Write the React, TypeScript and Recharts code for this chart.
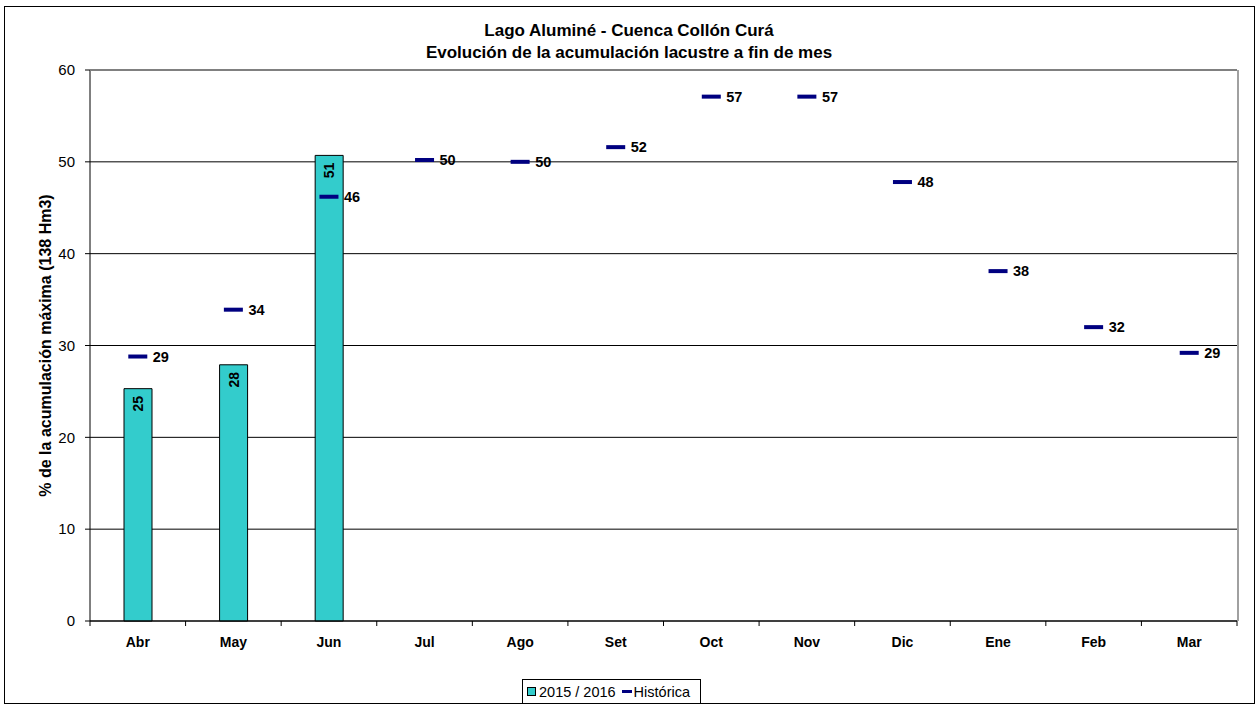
import { ComposedChart, Bar, Line, XAxis, YAxis, CartesianGrid, LabelList } from 'recharts';

const months = ['Abr', 'May', 'Jun', 'Jul', 'Ago', 'Set', 'Oct', 'Nov', 'Dic', 'Ene', 'Feb', 'Mar'];
const actual = [25.3, 27.9, 50.7, null, null, null, null, null, null, null, null, null];
const historica = [28.8, 33.9, 46.2, 50.2, 50.0, 51.6, 57.1, 57.1, 47.8, 38.1, 32.0, 29.2];
const yTicks = [0, 10, 20, 30, 40, 50, 60];

const data = months.map((m, i) => ({ month: m, actual: actual[i], hist: historica[i] }));

const W = 1258;
const H = 708;
const PLOT_LEFT = 90;
const PLOT_RIGHT = 1237;
const BAND = (PLOT_RIGHT - PLOT_LEFT) / months.length;
const FONT = '"Liberation Sans", Arial, sans-serif';

const MonthTick = (props: any) => {
  const { x, y, payload, index } = props;
  return (
    <g>
      <line x1={x - BAND / 2} x2={x - BAND / 2} y1={y - 8} y2={y - 3} stroke="#000" />
      {index === months.length - 1 && (
        <line x1={x + BAND / 2} x2={x + BAND / 2} y1={y - 8} y2={y - 3} stroke="#000" />
      )}
      <text x={x} y={y + 13} textAnchor="middle" dominantBaseline="central"
        fontSize={14} fontWeight="bold" fill="#000" fontFamily={FONT}>
        {payload.value}
      </text>
    </g>
  );
};

const HistDot = (props: any) => {
  const { cx, cy } = props;
  if (cx == null || cy == null) return null;
  return <rect x={cx - 9.5} y={cy - 2} width={19} height={4} fill="#000080" />;
};

const HistLabel = (props: any) => {
  const { x, y, value } = props;
  if (value == null) return null;
  return (
    <text x={x + 15} y={y} dominantBaseline="central" fontSize={14.5} fontWeight="bold"
      fill="#000" fontFamily={FONT}>
      {Math.round(value)}
    </text>
  );
};

const BarValue = (props: any) => {
  const { x, y, width, value } = props;
  if (value == null) return null;
  const cx = x + width / 2;
  const cy = y + 15;
  return (
    <text x={cx} y={cy} textAnchor="middle" dominantBaseline="central" fontSize={14}
      fontWeight="bold" fill="#000" fontFamily={FONT} transform={`rotate(-90 ${cx} ${cy})`}>
      {Math.round(value)}
    </text>
  );
};

export default function App() {
  return (
    <div style={{ position: 'absolute', left: 0, top: 0, width: W, height: H, background: '#fff', fontFamily: FONT }}>
      <div style={{ position: 'absolute', left: 4, top: 6, width: 1251, height: 698, border: '1px solid #000', boxSizing: 'border-box' }} />
      <div style={{ position: 'absolute', left: 0, width: W, top: 20, textAlign: 'center', fontWeight: 'bold', fontSize: 17, lineHeight: '22px', color: '#000' }}>
        <div>Lago Aluminé - Cuenca Collón Curá</div>
        <div>Evolución de la acumulación lacustre a fin de mes</div>
      </div>
      <ComposedChart width={W} height={H} data={data}
        margin={{ top: 70, right: W - PLOT_RIGHT, left: 50, bottom: 57 }}
        style={{ position: 'absolute', left: 0, top: 0 }}>
        <CartesianGrid vertical={false} stroke="#000" strokeOpacity={1} />
        <XAxis dataKey="month" tick={<MonthTick />} tickLine={false} axisLine={{ stroke: '#000' }}
          height={30} interval={0} />
        <YAxis domain={[0, 60]} ticks={yTicks} width={40} axisLine={{ stroke: '#000' }}
          tickLine={{ stroke: '#000' }} tickSize={5} tickMargin={10}
          tick={{ fontSize: 15, fill: '#000', fontFamily: FONT }}
          label={{ value: '% de la acumulación máxima (138 Hm3)', angle: -90, position: 'left', offset: 5,
            style: { fontSize: 16, fontWeight: 'bold', fill: '#000', fontFamily: FONT, textAnchor: 'middle' } }} />
        <Bar dataKey="actual" name="2015 / 2016" fill="#33CCCC" stroke="#000" strokeWidth={1}
          barSize={28} isAnimationActive={false}>
          <LabelList dataKey="actual" content={<BarValue />} />
        </Bar>
        <Line dataKey="hist" name="Histórica" stroke="none" dot={<HistDot />} activeDot={false}
          label={<HistLabel />} isAnimationActive={false} />
      </ComposedChart>
      <div style={{ position: 'absolute', left: PLOT_LEFT, top: 70, width: PLOT_RIGHT - PLOT_LEFT, height: 1, background: '#808080' }} />
      <div style={{ position: 'absolute', left: PLOT_RIGHT, top: 70, width: 2, height: 551, background: '#a0a0a0' }} />
      <div style={{
        position: 'absolute', left: 522, top: 679, width: 179, height: 25, boxSizing: 'border-box',
        display: 'flex', alignItems: 'center', border: '1px solid #000', padding: '0 4px',
        fontSize: 14.5, color: '#000', background: '#fff',
      }}>
        <span style={{ width: 9, height: 9, background: '#33CCCC', border: '1px solid #000', marginRight: 3, boxSizing: 'border-box' }} />
        <span style={{ marginRight: 6 }}>2015 / 2016</span>
        <span style={{ width: 10, height: 3, background: '#000080', marginRight: 2 }} />
        <span>Histórica</span>
      </div>
    </div>
  );
}
